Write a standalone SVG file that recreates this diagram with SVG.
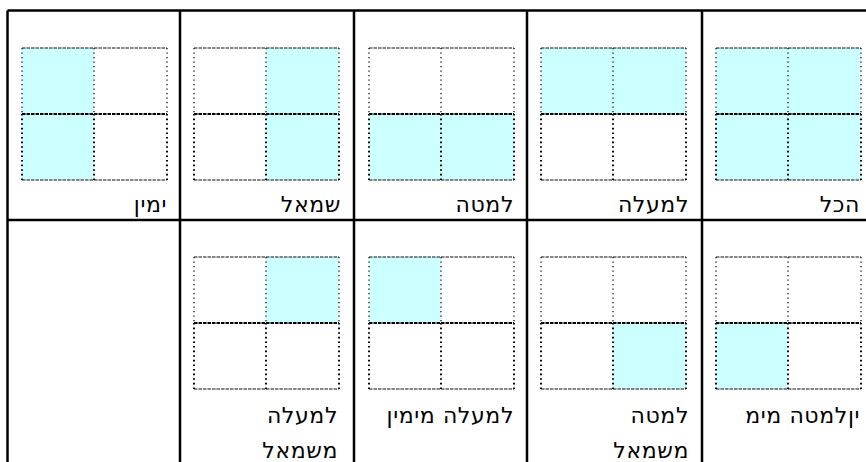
<svg xmlns="http://www.w3.org/2000/svg" width="866" height="462" viewBox="0 0 866 462">
<style>
.tb{stroke:#000;stroke-width:2.5;fill:none}
.fill{fill:#CCFFFF}
.ht{stroke:#111;stroke-width:1.2;stroke-dasharray:3.5 1;fill:none}
.hb{stroke:#000;stroke-width:2;stroke-dasharray:3.5 1;fill:none}
.vt{stroke:#111;stroke-width:1.3;stroke-dasharray:1.3 3.2;fill:none}
.vb{stroke:#000;stroke-width:2;stroke-dasharray:1.6 3;fill:none}
.lbl{font-family:"DejaVu Sans","Liberation Sans",sans-serif;font-size:22px;letter-spacing:0.6px;fill:#000;text-anchor:end}
</style>
<defs>
<g id="grid">
<path class="ht" d="M0 0H145M0 132H145"/>
<path class="hb" d="M0 66H145"/>
<path class="vt" d="M0 0V66M72 0V66M145 0V66"/>
<path class="vb" d="M0 66V132M72 66V132M145 66V132"/>
</g>
</defs>
<g id="table">
<path class="tb" d="M7.5 10.5H866M7.5 220H866M7.5 10.5V462M180 10.5V462M354 10.5V462M527 10.5V462M702 10.5V462"/>
</g>
<g id="connectors"/>
<g id="c-right">
<rect class="fill" x="22" y="48" width="72" height="132"/>
<use href="#grid" x="22" y="48"/>
<text class="lbl" x="167" y="212">ימין</text>
</g>
<g id="c-left">
<rect class="fill" x="266" y="48" width="73" height="132"/>
<use href="#grid" x="194" y="48"/>
<text class="lbl" x="341" y="212">שמאל</text>
</g>
<g id="c-bottom">
<rect class="fill" x="369" y="114" width="145" height="66"/>
<use href="#grid" x="369" y="48"/>
<text class="lbl" x="514" y="212">למטה</text>
</g>
<g id="c-top">
<rect class="fill" x="541" y="48" width="145" height="66"/>
<use href="#grid" x="541" y="48"/>
<text class="lbl" x="689" y="212">למעלה</text>
</g>
<g id="c-all">
<rect class="fill" x="716" y="48" width="145" height="132"/>
<use href="#grid" x="716" y="48"/>
<text class="lbl" x="860" y="212">הכל</text>
</g>
<g id="c-topleft">
<rect class="fill" x="266" y="257" width="73" height="66"/>
<use href="#grid" x="194" y="257"/>
<text class="lbl" x="338" y="423">למעלה</text>
<text class="lbl" x="338" y="458">משמאל</text>
</g>
<g id="c-topright">
<rect class="fill" x="369" y="257" width="72" height="66"/>
<use href="#grid" x="369" y="257"/>
<text class="lbl" x="514" y="423">למעלה מימין</text>
</g>
<g id="c-bottomleft">
<rect class="fill" x="613" y="323" width="73" height="66"/>
<use href="#grid" x="541" y="257"/>
<text class="lbl" x="689" y="423">למטה</text>
<text class="lbl" x="689" y="458">משמאל</text>
</g>
<g id="c-bottomright">
<rect class="fill" x="716" y="323" width="72" height="66"/>
<use href="#grid" x="716" y="257"/>
<text class="lbl" x="860" y="423">יןלמטה מימ</text>
</g>
</svg>
